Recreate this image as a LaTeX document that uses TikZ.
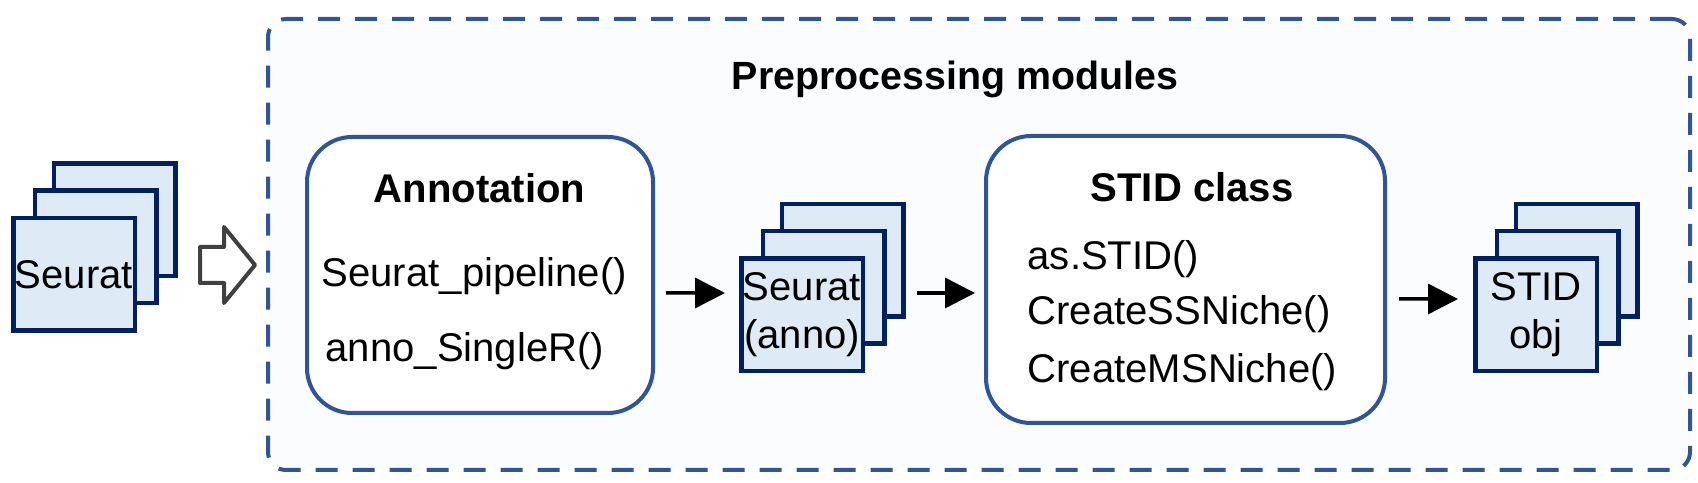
\documentclass[tikz,border=0pt]{standalone}
\usepackage{fontspec}
\setmainfont{Liberation Sans}
\usetikzlibrary{arrows.meta}
\definecolor{frameblue}{RGB}{47,85,151}
\definecolor{navy}{RGB}{0,32,96}
\definecolor{pagefill}{RGB}{222,235,247}
\definecolor{panel}{RGB}{251,252,254}
\definecolor{hollow}{RGB}{64,64,64}
\begin{document}
\begin{tikzpicture}[
		font = \fontsize{11.4}{13.7}\selectfont,
		page/.style = {draw = navy, fill = pagefill, line width = 0.045cm, minimum width = 1.215cm, minimum height = 1.125cm, inner sep = 0pt, align = center},
		module/.style = {draw = frameblue, fill = white, line width = 0.04cm, rounded corners = 0.45cm},
		flow/.style = {-{Triangle[length = 0.3cm, width = 0.3cm]}, line width = 0.035cm},
		item/.style = {anchor = base west, inner sep = 0pt},
		title/.style = {anchor = base, inner sep = 0pt, font = \fontsize{11.4}{13.7}\selectfont\bfseries},
	]
	\useasboundingbox (0, 0) rectangle (16.98, -4.83);
	\node[draw = frameblue, fill = panel, dash pattern = on 0.22cm off 0.15cm, line width = 0.04cm, rounded corners = 0.18cm, minimum width = 14.22cm, minimum height = 4.51cm] (panel) at (9.79, -2.445) {};
	\node[title, font = \fontsize{11.2}{13.7}\selectfont\bfseries] (head) at (9.55, -0.90) {Preprocessing modules};
	\node[module, minimum width = 3.46cm, minimum height = 2.76cm] (annot) at (4.80, -2.75) {};
	\node[title] (annot-title) at (4.795, -2.03) {Annotation};
	\node[item] (pipe) at (3.21, -2.87) {Seurat\_pipeline()};
	\node[item] (single) at (3.25, -3.62) {anno\_SingleR()};
	\node[module, minimum width = 3.99cm, minimum height = 2.87cm] (stid) at (11.855, -2.795) {};
	\node[title] (stid-title) at (11.92, -2.02) {STID class};
	\node[item] (as) at (10.27, -2.70) {as.STID()};
	\node[item] (ss) at (10.27, -3.25) {CreateSSNiche()};
	\node[item] (ms) at (10.27, -3.83) {CreateMSNiche()};
	\foreach \n/\x/\y in {s1/0.74/-2.745, s2/8.02/-3.15, s3/15.36/-3.15} {
		\node[page] (\n-back) at (\x + 0.405, \y + 0.545) {};
		\node[page] (\n-mid) at (\x + 0.215, \y + 0.275) {};
	}
	\node[page] (s1) at (0.74, -2.745) {Seurat};
	\node[page] (s2) at (8.02, -3.15) {Seurat\\(anno)};
	\node[page] (s3) at (15.36, -3.15) {STID\\obj};
	\draw[draw = hollow, fill = white, line width = 0.04cm, line join = round] (2.00, -2.47) -- (2.24, -2.47) -- (2.24, -2.27) -- (2.55, -2.65) -- (2.24, -3.03) -- (2.24, -2.83) -- (2.00, -2.83) -- cycle;
	\draw[flow, shorten < = 0.11cm, shorten > = 0.14cm] ([yshift = -0.18cm]annot.east) -- ([yshift = 0.22cm]s2.west);
	\draw[flow, shorten < = 0.11cm, shorten > = 0.09cm] ([yshift = -0.325cm]s2-back.east) -- ([yshift = -0.135cm]stid.west);
	\draw[flow, shorten < = 0.12cm, shorten > = 0.15cm] ([yshift = -0.195cm]stid.east) -- ([yshift = 0.16cm]s3.west);
\end{tikzpicture}
\end{document}
